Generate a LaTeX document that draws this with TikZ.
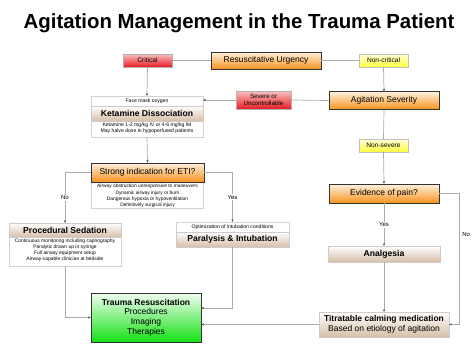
\documentclass[tikz,border=0pt]{standalone}
\usepackage{fontspec}
\setmainfont{Liberation Sans}
\usetikzlibrary{arrows.meta,calc}
\newcommand\myfs[2]{\fontsize{#1}{#2}\selectfont}
\definecolor{redtop}{HTML}{F9C0C0}
\definecolor{redbot}{HTML}{E81C24}
\definecolor{ortop}{HTML}{FFF1DE}
\definecolor{orbot}{HTML}{F7931E}
\definecolor{yeltop}{HTML}{FFFFDC}
\definecolor{yelbot}{HTML}{FFFF3A}
\definecolor{begtop}{HTML}{FFFFFF}
\definecolor{begbot}{HTML}{D6BFA8}
\definecolor{grtop}{HTML}{F0FFF0}
\definecolor{grbot}{HTML}{14E014}
\definecolor{lineg}{HTML}{AAAAAA}
\definecolor{bord}{HTML}{333333}
\begin{document}
\begin{tikzpicture}[x=1pt,y=-1pt,
 conn/.style={draw=lineg, line width=0.7pt},
 arr/.style={conn, -{Stealth[length=2.5pt,width=2.2pt,color=darkgray]}},
 lbl/.style={fill=white, inner sep=1pt, font=\myfs{6}{7}},
 redb/.style={draw=gray!60, top color=redtop, bottom color=redbot, inner sep=0pt, align=center, font=\myfs{6.6}{7.5}},
 yelb/.style={draw=gray!50, top color=yeltop, bottom color=yelbot, inner sep=0pt, align=center, font=\myfs{6.6}{7.5}},
 orb/.style={draw=bord, line width=0.8pt, top color=ortop, bottom color=orbot, inner sep=0pt, align=center, font=\myfs{8.5}{10}},
 begb/.style={draw=gray!40, top color=begtop, bottom color=begbot, inner sep=0pt, align=center},
 subb/.style={draw=gray!35, fill=white, inner sep=0pt},
 small/.style={inner sep=0pt, align=center, font=\myfs{5.1}{6.2}},
 hdr/.style={font=\bfseries\myfs{8.6}{10}}]
\useasboundingbox (0,0) rectangle (474,351);
\node[font=\bfseries\myfs{20.4}{24}] (title) at (239,23) {Agitation Management in the Trauma Patient};

\node[orb, minimum width=110, minimum height=17] (resus) at (266,60.5) {Resuscitative Urgency};
\node[redb, minimum width=49, minimum height=13] (crit) at (147.5,60.5) {Critical};
\node[yelb, minimum width=49, minimum height=13] (noncrit) at (383.5,60.5) {Non-critical};
\node[orb, minimum width=110, minimum height=18] (sev) at (384,100.5) {Agitation Severity};
\node[redb, minimum width=55, minimum height=18, font=\myfs{6.2}{7}] (severe) at (263.5,100) {Severe or\\Uncontrollable};
\node[yelb, minimum width=49, minimum height=13] (nonsev) at (383.5,145.5) {Non-severe};

% Ketamine
\node[subb, minimum width=112, minimum height=41] (ket) at (147,116.5) {};
\node[begb, hdr, minimum width=112, minimum height=15] (keth) at (147,113.5) {Ketamine Dissociation};
\node[small] (ketf) at (147,100.8) {Face mask oxygen};
\node[small] (ketd) at (147,128.5) {Ketamine 1-2 mg/kg IV or 4-6 mg/kg IM\\May halve dose in hypoperfused patients};

% ETI
\node[subb, minimum width=112, minimum height=26] (etis) at (147.5,195) {};
\node[orb, minimum width=113, minimum height=19] (eti) at (147.5,172.5) {Strong indication for ETI?};
\node[small, font=\myfs{4.85}{6.3}] (etit) at (147.5,196) {Airway obstruction unresponsive to maneuvers\\Dynamic airway injury or burn\\Dangerous hypoxia or hypoventilation\\Definitively surgical injury};

% Procedural sedation
\node[subb, minimum width=112, minimum height=43] (proc) at (65,244.5) {};
\node[begb, hdr, minimum width=112, minimum height=14] (proch) at (65,230) {Procedural Sedation};
\node[small, font=\myfs{4.95}{6.1}] (proct) at (65,250.5) {Continuous monitoring including capnography\\Paralytic drawn up in syringe\\Full airway equipment setup\\Airway-capable clinician at bedside};

% Paralysis
\node[subb, minimum width=113, minimum height=25] (para) at (232.5,234.5) {};
\node[small] (parat) at (232.5,227) {Optimization of intubation conditions};
\node[begb, hdr, minimum width=113, minimum height=15] (parah) at (232.5,239.5) {Paralysis \& Intubation};

% Evidence / Analgesia
\node[orb, minimum width=110, minimum height=19] (pain) at (384,193.5) {Evidence of pain?};
\node[begb, hdr, minimum width=112, minimum height=16] (anal) at (384,254) {Analgesia};

% Trauma
\node[draw=bord, line width=0.8pt, top color=grtop, bottom color=grbot, minimum width=110, minimum height=49, inner sep=0pt, align=center, font=\myfs{8.5}{9.8}] (trauma) at (146,317.5) {\textbf{Trauma Resuscitation}\\Procedures\\Imaging\\Therapies};

% Titratable
\node[begb, minimum width=130, minimum height=25, font=\myfs{8.5}{9.8}] (titr) at (384,324.5) {\textbf{Titratable calming medication}\\Based on etiology of agitation};

% connectors
\draw[conn] (resus.west) -- (crit.east);
\draw[conn] (resus.east) -- (noncrit.west);
\draw[arr] (crit.south) -- (ket.north);
\draw[arr] (noncrit.south) -- (sev.north);
\draw[conn] (sev.west) -- (severe.east);
\draw[arr] (severe.west) -- (severe.west -| ket.east);
\draw[conn] (sev.south) -- (nonsev.north);
\draw[arr] (nonsev.south) -- (pain.north);
\draw[arr] (ket.south) -- (eti.north);
\draw[arr] (eti.west) -| node[lbl, pos=0.75]{No} (proc.north);
\draw[arr] (eti.east) -| node[lbl, pos=0.75]{Yes} (para.north);
\draw[arr] (proc.south) |- (trauma.west);
\draw[arr] (para.south) |- ([yshift=9.5pt]trauma.east);
\draw[arr] (titr.west) -- (titr.west -| trauma.east);
\draw[arr] (pain.south) -- node[lbl]{Yes} (anal.north);
\draw[arr] (anal.south) -- (titr.north);
\coordinate (pr) at ([xshift=20pt]pain.east);
\draw[arr] (pain.east) -- (pr) -- node[lbl, pos=0.31, fill=none, right=1.5pt]{No} (pr |- titr.east) -- (titr.east);
\end{tikzpicture}
\end{document}
